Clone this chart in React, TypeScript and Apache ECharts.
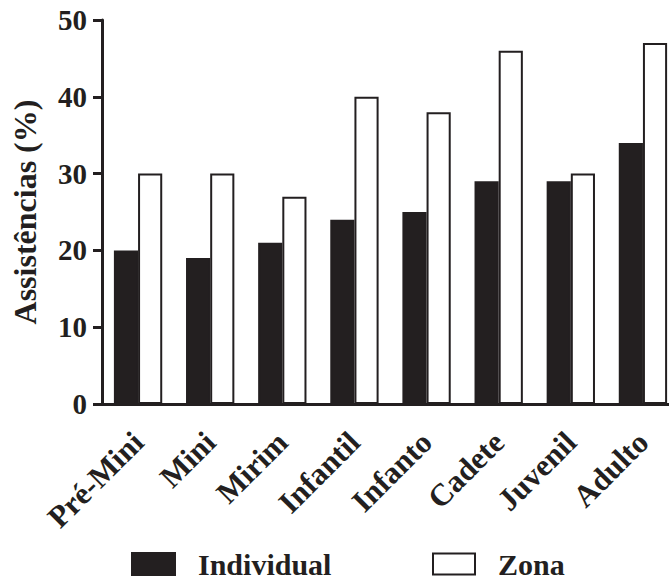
import React, { useEffect, useRef } from "react";
import * as echarts from "echarts";

const categories = ["Pré-Mini", "Mini", "Mirim", "Infantil", "Infanto", "Cadete", "Juvenil", "Adulto"];
const individual = [20, 19, 21, 24, 25, 29, 29, 34];
const zona = [30, 30, 27, 40, 38, 46, 30, 47];
const yTicks = [0, 10, 20, 30, 40, 50];

const INK = "#231f20";
const FONT = "'Liberation Serif', 'Times New Roman', serif";

export default function App() {
  const ref = useRef<HTMLDivElement>(null);
  useEffect(() => {
    if (!ref.current) return;
    const chart = echarts.init(ref.current, undefined, { renderer: "svg" });
    const legendText = {
      fontFamily: FONT,
      fontWeight: "bold",
      fontSize: 30,
      color: INK,
      padding: [0, 0, 0, 18],
    };
    chart.setOption({
      animation: false,
      backgroundColor: "#ffffff",
      grid: { left: 102, top: 20, bottom: 176, right: 1, containLabel: false, outerBoundsMode: "none" },
      legend: [
        {
          data: ["Individual"],
          left: 131,
          top: 549,
          padding: 0,
          itemWidth: 43,
          itemHeight: 22,
          icon: "rect",
          textStyle: legendText,
        },
        {
          data: ["Zona"],
          left: 432,
          top: 549,
          padding: 0,
          itemWidth: 42,
          itemHeight: 21,
          icon: "rect",
          textStyle: legendText,
        },
      ],
      xAxis: {
        type: "category",
        data: categories,
        axisLine: { lineStyle: { color: INK, width: 3 } },
        axisTick: { alignWithLabel: true, length: 9, lineStyle: { color: INK, width: 3 } },
        axisLabel: {
          rotate: 45,
          interval: 0,
          margin: 33,
          align: "right",
          verticalAlign: "middle",
          fontFamily: FONT,
          fontWeight: "bold",
          fontSize: 31,
          color: INK,
        },
      },
      yAxis: {
        type: "value",
        min: yTicks[0],
        max: yTicks[yTicks.length - 1],
        interval: 10,
        name: "Assistências (%)",
        nameLocation: "middle",
        nameGap: 61,
        nameTextStyle: { fontFamily: FONT, fontWeight: "bold", fontSize: 32, color: INK },
        splitLine: { show: false },
        axisLine: { show: true, lineStyle: { color: INK, width: 3 } },
        axisTick: { show: true, length: 9, lineStyle: { color: INK, width: 3 } },
        axisLabel: { margin: 15, fontFamily: FONT, fontWeight: "bold", fontSize: 29, color: INK },
      },
      series: [
        {
          name: "Individual",
          type: "bar",
          data: individual,
          barGap: "0%",
          barCategoryGap: "33%",
          itemStyle: { color: INK, borderColor: INK, borderWidth: 2 },
        },
        {
          name: "Zona",
          type: "bar",
          data: zona,
          itemStyle: { color: "#ffffff", borderColor: INK, borderWidth: 2 },
        },
      ],
    });
    return () => chart.dispose();
  }, []);
  return (
    <div style={{ position: "absolute", left: 0, top: 0, width: 669, height: 580, overflow: "hidden" }}>
      <div ref={ref} style={{ width: 680, height: 580 }} />
    </div>
  );
}
